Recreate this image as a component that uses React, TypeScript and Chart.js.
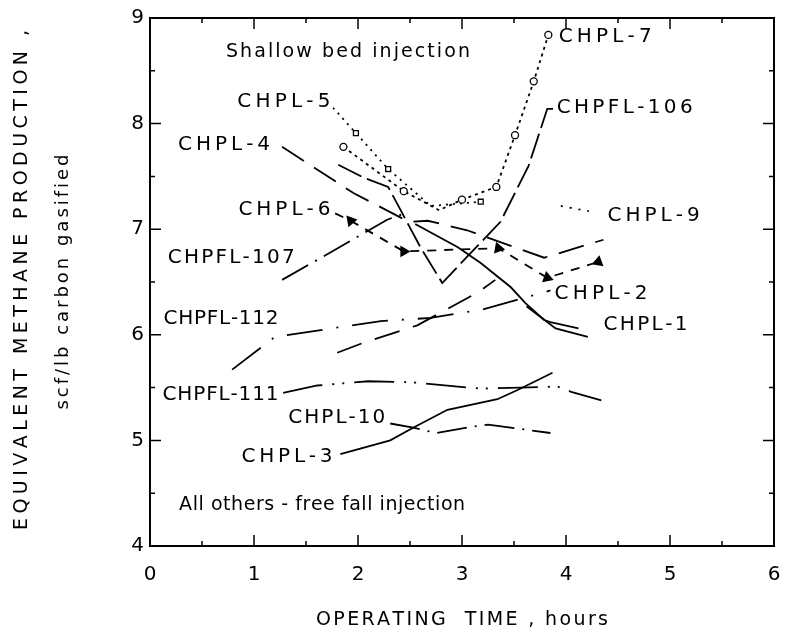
import React, { useEffect, useRef } from "react";
import { Chart, registerables } from "chart.js";

Chart.register(...registerables);

type P = [number, number];

// Axis ranges and tick values
const xRange: P = [0, 6];
const yRange: P = [4, 9];
const xTickValues = [0, 1, 2, 3, 4, 5, 6];
const yTickValues = [4, 5, 6, 7, 8, 9];

// Series (operating time [h], equivalent methane production [scf/lb C gasified])
const chpl7: P[] = [[1.86, 7.78], [2.44, 7.36], [2.78, 7.18], [3.0, 7.28], [3.33, 7.4], [3.51, 7.89], [3.69, 8.4], [3.83, 8.84]];
const chpl7Marks = [1, 1, 0, 1, 1, 1, 1, 1];
const chpl5: P[] = [[1.76, 8.15], [1.98, 7.91], [2.29, 7.57], [2.7, 7.22], [3.18, 7.26]];
const chpl5Marks = [0, 1, 1, 0, 1];
const chpfl106: P[] = [[1.81, 7.61], [2.05, 7.49], [2.29, 7.4], [2.41, 7.18], [2.6, 6.83], [2.81, 6.49], [3.05, 6.74], [3.37, 7.07], [3.64, 7.6], [3.82, 8.14], [3.9, 8.14]];
const chpl9: P[] = [[3.95, 7.22], [4.22, 7.17]];
const chpl4: P[] = [[1.27, 7.78], [1.96, 7.34], [2.49, 7.07], [2.67, 7.08], [3.05, 6.99], [3.79, 6.73], [4.36, 6.9]];
const chpl6: P[] = [[1.78, 7.15], [1.93, 7.08], [2.44, 6.79], [3.35, 6.82], [3.82, 6.54], [4.31, 6.69]];
const chpl6Marks = [0, 1, 1, 1, 1, 1];
const chpfl107: P[] = [[1.27, 6.52], [1.61, 6.71], [2.28, 7.09], [2.42, 7.14]];
const chpfl112: P[] = [[0.79, 5.67], [1.2, 5.98], [2.22, 6.13], [2.7, 6.16], [3.2, 6.24], [3.85, 6.42]];
const chpl2: P[] = [[1.8, 5.83], [2.04, 5.92], [2.57, 6.09], [3.15, 6.4], [3.32, 6.52]];
const chpl1: P[] = [[2.55, 7.05], [2.96, 6.83], [3.18, 6.68], [3.47, 6.45], [3.61, 6.3], [3.79, 6.14], [3.85, 6.12], [4.12, 6.06]];
const chpl1Lower: P[] = [[3.62, 6.27], [3.9, 6.06], [4.21, 5.98]];
const chpfl111: P[] = [[1.28, 5.45], [1.61, 5.52], [2.1, 5.56], [2.52, 5.55], [3.18, 5.49], [3.56, 5.5], [3.92, 5.51], [4.05, 5.46], [4.34, 5.38]];
const chpl10: P[] = [[2.31, 5.16], [2.53, 5.12], [2.75, 5.07], [3.1, 5.13], [3.25, 5.15], [3.85, 5.07]];
const chpl3: P[] = [[1.83, 4.87], [2.31, 5.0], [2.53, 5.12], [2.86, 5.29], [3.34, 5.39], [3.54, 5.48], [3.87, 5.64]];

// Text annotations: text, anchor x (h), anchor y (value)
const labelTexts = ["Shallow bed injection", "CHPL-7", "CHPFL-106", "CHPL-5", "CHPL-4", "CHPL-6", "CHPL-9", "CHPFL-107", "CHPL-2", "CHPL-1", "CHPFL-112", "CHPFL-111", "CHPL-10", "CHPL-3", "All others - free fall injection"];
const labelX = [0.73, 3.93, 3.91, 0.84, 0.27, 0.85, 4.4, 0.17, 3.89, 4.36, 0.13, 0.12, 1.33, 0.88, 0.28];
const labelY = [8.68, 8.82, 8.15, 8.21, 7.8, 7.18, 7.13, 6.73, 6.39, 6.09, 6.15, 5.43, 5.21, 4.84, 4.39];
const labelWidths = [244, 93, 136, 93, 92, 92, 92, 127, 93, 84, 115, 116, 97, 91, 286];

const xTitle = "OPERATING  TIME , hours";
const yTitle1 = "EQUIVALENT METHANE PRODUCTION ,";
const yTitle2 = "scf/lb carbon gasified";

const FONT = "'DejaVu Sans', 'Liberation Sans', sans-serif";

function spaced(ctx: CanvasRenderingContext2D, text: string, x: number, y: number, width: number, align: "left" | "center") {
  const chars = Array.from(text);
  const ws = chars.map((c) => ctx.measureText(c).width);
  const total = ws.reduce((a, b) => a + b, 0);
  const gap = chars.length > 1 ? (width - total) / (chars.length - 1) : 0;
  let cx = align === "center" ? x - width / 2 : x;
  ctx.textAlign = "left";
  chars.forEach((c, i) => {
    ctx.fillText(c, cx, y);
    cx += ws[i] + gap;
  });
}

function toData(pts: P[]) {
  return pts.map(([x, y]) => ({ x, y }));
}

function line(pts: P[], dash: number[], extra: any = {}) {
  return {
    data: toData(pts),
    showLine: true,
    borderColor: "#000",
    borderWidth: 1.8,
    borderDash: dash,
    pointRadius: 0,
    pointHoverRadius: 0,
    tension: 0,
    fill: false,
    ...extra,
  };
}

const frame = {
  id: "frame",
  afterDraw(chart: any) {
    const { ctx, chartArea: a, scales } = chart;
    const xs = scales.x;
    const ys = scales.y;
    ctx.save();
    ctx.strokeStyle = "#000";
    ctx.lineWidth = 2;
    ctx.strokeRect(a.left, a.top, a.right - a.left, a.bottom - a.top);
    ctx.lineWidth = 1.5;
    for (let v = xRange[0]; v <= xRange[1] + 1e-9; v += 0.5) {
      const px = xs.getPixelForValue(v);
      const len = Number.isInteger(v) ? 11 : 5;
      ctx.beginPath();
      ctx.moveTo(px, a.bottom);
      ctx.lineTo(px, a.bottom - len);
      ctx.moveTo(px, a.top);
      ctx.lineTo(px, a.top + len);
      ctx.stroke();
    }
    for (let v = yRange[0]; v <= yRange[1] + 1e-9; v += 0.5) {
      const py = ys.getPixelForValue(v);
      const len = Number.isInteger(v) ? 11 : 5;
      ctx.beginPath();
      ctx.moveTo(a.left, py);
      ctx.lineTo(a.left + len, py);
      ctx.moveTo(a.right, py);
      ctx.lineTo(a.right - len, py);
      ctx.stroke();
    }
    ctx.fillStyle = "#000";
    ctx.textBaseline = "middle";
    labelTexts.forEach((t, i) => {
      const px = xs.getPixelForValue(labelX[i]);
      const py = ys.getPixelForValue(labelY[i]);
      ctx.font = i === 0 || i === labelTexts.length - 1 ? `19px ${FONT}` : `20px ${FONT}`;
      spaced(ctx, t, px, py, labelWidths[i], "left");
    });
    // axis titles
    ctx.font = `19px ${FONT}`;
    spaced(ctx, xTitle, (a.left + a.right) / 2, 620, 292, "center");
    ctx.save();
    ctx.translate(22, 280);
    ctx.rotate(-Math.PI / 2);
    ctx.font = `19px ${FONT}`;
    spaced(ctx, yTitle1, 0, 0, 500, "center");
    ctx.restore();
    ctx.save();
    ctx.translate(63, 282);
    ctx.rotate(-Math.PI / 2);
    ctx.font = `18px ${FONT}`;
    spaced(ctx, yTitle2, 0, 0, 255, "center");
    ctx.restore();
    ctx.restore();
  },
};

export default function App() {
  const ref = useRef<HTMLCanvasElement | null>(null);
  useEffect(() => {
    if (!ref.current) return;
    const datasets: any[] = [
      line(chpl7, [3, 4], {
        pointStyle: "circle",
        pointRadius: chpl7Marks.map((m) => (m ? 3.5 : 0)),
        pointBackgroundColor: "#fff",
        pointBorderColor: "#000",
        pointBorderWidth: 1.3,
      }),
      line(chpl5, [2, 5], {
        pointStyle: "rect",
        pointRadius: chpl5Marks.map((m) => (m ? 3.5 : 0)),
        pointBackgroundColor: "#fff",
        pointBorderColor: "#000",
        pointBorderWidth: 1.3,
      }),
      line(chpfl106, [26, 6]),
      line(chpl9, [2, 7]),
      line(chpl4, [26, 12]),
      line(chpl6, [9, 8], {
        pointStyle: "triangle",
        pointRadius: chpl6Marks.map((m) => (m ? 5 : 0)),
        pointRotation: [0, 200, 90, 100, 110, 250],
        pointBackgroundColor: "#000",
        pointBorderColor: "#000",
      }),
      line(chpfl107, [30, 8, 2, 8]),
      line(chpfl112, [36, 14, 2, 14]),
      line(chpl2, [26, 14]),
      line(chpl1, []),
      line(chpl1Lower, []),
      line(chpfl111, [40, 10, 2, 8, 2, 10]),
      line(chpl10, [30, 8, 2, 8]),
      line(chpl3, []),
    ];
    const chart = new Chart(ref.current, {
      type: "scatter",
      data: { datasets },
      options: {
        animation: false,
        responsive: false,
        maintainAspectRatio: false,
        layout: { padding: { left: 0, right: 27, top: 18, bottom: 0 } },
        plugins: { legend: { display: false }, tooltip: { enabled: false } },
        events: [],
        scales: {
          x: {
            type: "linear",
            min: xRange[0],
            max: xRange[1],
            afterFit: (s: any) => {
              s.height = 95;
            },
            afterBuildTicks: (s: any) => {
              s.ticks = xTickValues.map((v) => ({ value: v }));
            },
            grid: { display: false, drawTicks: false },
            border: { display: false },
            ticks: { font: { family: FONT, size: 20 }, color: "#000", padding: 17, maxRotation: 0 },
          },
          y: {
            type: "linear",
            min: yRange[0],
            max: yRange[1],
            afterFit: (s: any) => {
              s.width = 150;
            },
            afterBuildTicks: (s: any) => {
              s.ticks = yTickValues.map((v) => ({ value: v }));
            },
            grid: { display: false, drawTicks: false },
            border: { display: false },
            ticks: { font: { family: FONT, size: 20 }, color: "#000", padding: 6 },
          },
        },
      },
      plugins: [frame],
    });
    return () => chart.destroy();
  }, []);
  return (
    <div style={{ position: "fixed", left: 0, top: 0, width: 801, height: 641, background: "#fff" }}>
      <canvas ref={ref} width={801} height={641} style={{ width: 801, height: 641, display: "block" }} />
    </div>
  );
}
